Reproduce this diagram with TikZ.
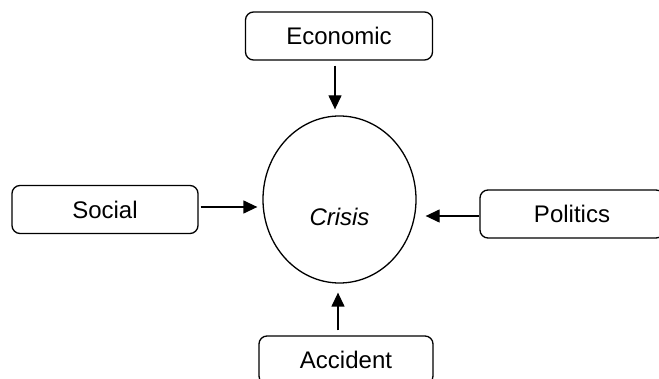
\documentclass[tikz,border=0pt]{standalone}
\usepackage{fontspec}
\setmainfont{Liberation Sans}
\usetikzlibrary{shapes.geometric,arrows.meta}
\begin{document}
\begin{tikzpicture}[x=1pt,y=-1pt,
  factor/.style={draw,line width=1.3pt,rounded corners=8pt,minimum height=48pt,inner sep=0pt,font=\fontsize{24}{28}\selectfont},
  arr/.style={line width=1.3pt,-{Triangle[length=14pt,width=13pt]}}]
\useasboundingbox (0,0) rectangle (659,379);
\clip (0,0) rectangle (659,379);
\node[factor,minimum width=187pt] (eco) at (339,36) {Economic};
\node[factor,minimum width=186pt] (soc) at (105,209.5) {Social};
\node[factor,minimum width=184pt] (pol) at (572,214) {Politics};
\node[factor,minimum width=174pt] (acc) at (346,360) {Accident};
\node[draw,ellipse,line width=1.3pt,minimum width=153pt,minimum height=167pt,inner sep=0pt,font=\fontsize{24}{28}\selectfont\itshape] (cri) at (339.5,199.5) {\raisebox{-26pt}[0pt][0pt]{Crisis}};
\draw[arr,shorten <=5pt,shorten >=6pt] ([xshift=-4pt]eco.south) -- ([xshift=-4pt]eco.south |- cri.north);
\draw[arr,shorten <=2pt,shorten >=5pt] ([yshift=2.5pt]soc.east) -- ([yshift=2.5pt]soc.east -| cri.west);
\draw[arr,shorten >=9pt] ([yshift=-2pt]pol.west) -- ([yshift=-2pt]pol.west -| cri.east);
\draw[arr,shorten <=5pt,shorten >=9pt] ([xshift=-8pt]acc.north) -- ([xshift=-8pt]acc.north |- cri.south);
\end{tikzpicture}
\end{document}
